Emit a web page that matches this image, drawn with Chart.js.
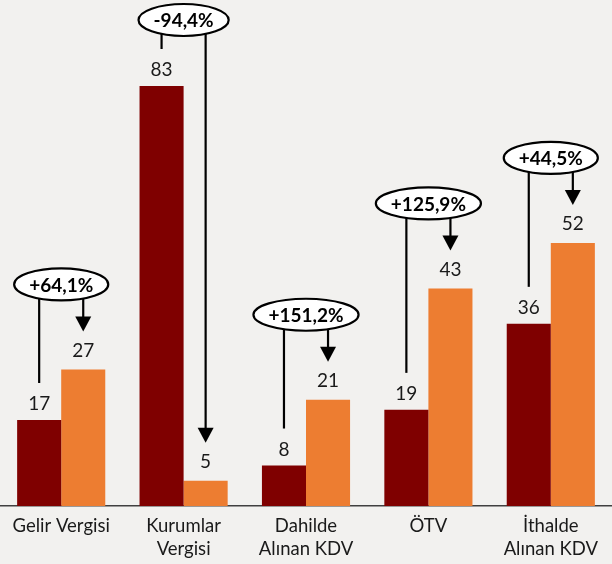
<!DOCTYPE html>
<html><head><meta charset="utf-8">
<script src="https://cdn.jsdelivr.net/npm/chart.js@4/dist/chart.umd.min.js"></script>
<style>html,body{margin:0;padding:0;background:#f2f1ef;}#wrap{width:612px;height:564px;}</style>
</head><body><div id="wrap"><canvas id="c"></canvas></div>
<script>
const categories = [["Gelir Vergisi"], ["Kurumlar", "Vergisi"], ["Dahilde", "Alınan KDV"], ["ÖTV"], ["İthalde", "Alınan KDV"]];
const series1 = [17, 83, 8, 19, 36];
const series2 = [27, 5, 21, 43, 52];
const changes = ["+64,1%", "-94,4%", "+151,2%", "+125,9%", "+44,5%"];
const FONT = "Lato, 'Open Sans', sans-serif";

const labelPlugin = {
  id: 'labels',
  afterDatasetsDraw(chart) {
    const ctx = chart.ctx;
    const m0 = chart.getDatasetMeta(0), m1 = chart.getDatasetMeta(1);
    ctx.save();
    ctx.fillStyle = '#1a1a1a';
    ctx.font = '19px ' + FONT;
    ctx.textAlign = 'center';
    ctx.textBaseline = 'middle';
    for (let i = 0; i < categories.length; i++) {
      const b0 = m0.data[i], b1 = m1.data[i];
      ctx.fillText(String(series1[i]), b0.x, b0.y - 16);
      ctx.fillText(String(series2[i]), b1.x, b1.y - 19);
    }
    ctx.strokeStyle = '#000';
    ctx.lineWidth = 2.2;
    for (let i = 0; i < categories.length; i++) {
      const b0 = m0.data[i], b1 = m1.data[i];
      const topMax = Math.min(b0.y, b1.y);
      const cx = (b0.x + b1.x) / 2;
      const cy = Math.max(20, topMax - 85);
      ctx.font = 'bold 19px ' + FONT;
      const tw = ctx.measureText(changes[i]).width;
      const rx = tw / 2 + 15, ry = 16;
      ctx.beginPath();
      ctx.moveTo(b0.x, cy + ry - 2);
      ctx.lineTo(b0.x, b0.y - 37);
      ctx.stroke();
      const tip = b1.y - 38;
      ctx.beginPath();
      ctx.moveTo(b1.x, cy + ry - 2);
      ctx.lineTo(b1.x, tip - 12);
      ctx.stroke();
      ctx.beginPath();
      ctx.fillStyle = '#000';
      ctx.moveTo(b1.x - 8, tip - 15);
      ctx.lineTo(b1.x + 8, tip - 15);
      ctx.lineTo(b1.x, tip);
      ctx.closePath();
      ctx.fill();
      ctx.beginPath();
      ctx.ellipse(cx, cy, rx, ry, 0, 0, Math.PI * 2);
      ctx.fillStyle = '#fff';
      ctx.fill();
      ctx.stroke();
      ctx.fillStyle = '#000';
      ctx.fillText(changes[i], cx, cy + 1);
    }
    ctx.restore();
  }
};

new Chart(document.getElementById('c'), {
  type: 'bar',
  data: {
    labels: categories,
    datasets: [
      { data: series1, backgroundColor: '#7f0000', categoryPercentage: 0.72, barPercentage: 1 },
      { data: series2, backgroundColor: '#ed7d31', categoryPercentage: 0.72, barPercentage: 1 }
    ]
  },
  options: {
    responsive: true,
    maintainAspectRatio: false,
    animation: false,
    layout: { padding: 0 },
    plugins: { legend: { display: false }, tooltip: { enabled: false } },
    scales: {
      y: { display: false, min: 0, max: 100 },
      x: {
        grid: { display: false },
        border: { display: true, color: '#404040', width: 1.5 },
        ticks: { color: '#1a1a1a', font: { size: 18.5, family: FONT, lineHeight: 1.25 }, padding: 0, maxRotation: 0, autoSkip: false },
        afterFit(scale) { scale.height = 58; }
      }
    }
  },
  plugins: [labelPlugin]
});
</script>
</body></html>
